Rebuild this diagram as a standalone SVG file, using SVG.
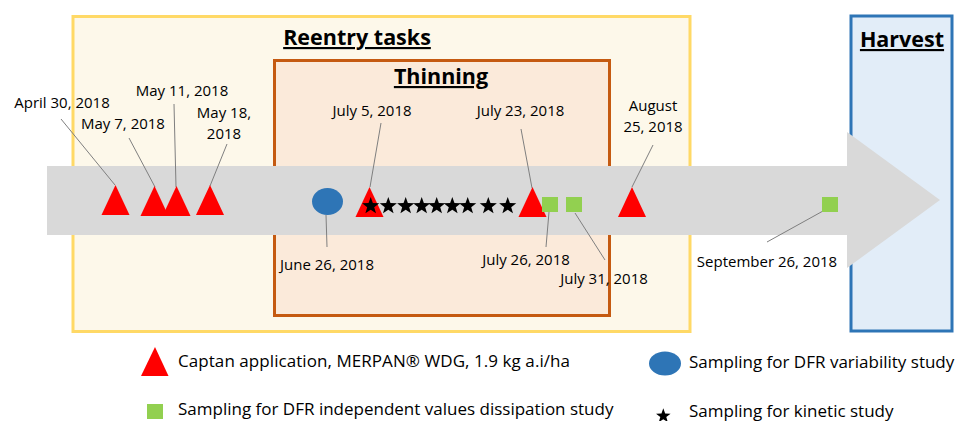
<svg xmlns="http://www.w3.org/2000/svg" width="958" height="421" viewBox="0 0 958 421">
<defs>
<style>
.lbl{font-family:"Open Sans","Liberation Sans",sans-serif;font-size:15px;fill:#000;text-anchor:middle}
.leg{font-family:"Open Sans","Liberation Sans",sans-serif;font-size:17px;fill:#000}
.ttl{font-family:"Open Sans","Liberation Sans",sans-serif;font-size:21.5px;font-weight:bold;fill:#000;text-decoration:underline}
.lead{stroke:#7F7F7F;stroke-width:1;fill:none}
.tri{fill:#FF0000}
.sq{fill:#92D050}
</style>
<path id="tri" d="M0,-15 L14,15 L-14,15 Z"/>
<path id="star" d="M0,-9 L2.17,-2.99 L8.56,-2.78 L3.52,1.14 L5.29,7.28 L0,3.7 L-5.29,7.28 L-3.52,1.14 L-8.56,-2.78 L-2.17,-2.99 Z"/>
</defs>
<rect width="958" height="421" fill="#FFFFFF"/>
<g id="reentry">
<rect x="73" y="16.5" width="617" height="315" fill="#FDF8EA" stroke="#FFD966" stroke-width="3"/>
<text class="ttl" x="357" y="45" text-anchor="middle">Reentry tasks</text>
</g>
<g id="thinning">
<rect x="274.5" y="60.5" width="335" height="255" fill="#FBEADA" stroke="#C55A11" stroke-width="3"/>
<text class="ttl" x="441" y="84" text-anchor="middle">Thinning</text>
</g>
<g id="harvest">
<rect x="851" y="16" width="101" height="315" fill="#E2EDF8" stroke="#2E75B6" stroke-width="3"/>
<text class="ttl" x="902" y="47" text-anchor="middle">Harvest</text>
</g>
<g id="timeline">
<path d="M47,166 H847 V132 L940,200 L847,268 V235 H47 Z" fill="#D9D9D9"/>
</g>
<g id="connectors">
<line class="lead" x1="61" y1="119" x2="115" y2="185"/>
<line class="lead" x1="129" y1="138" x2="155" y2="187"/>
<line class="lead" x1="174" y1="104" x2="176" y2="187"/>
<line class="lead" x1="227" y1="144" x2="210" y2="186"/>
<line class="lead" x1="381" y1="123" x2="370" y2="187"/>
<line class="lead" x1="521" y1="129" x2="532" y2="188"/>
<line class="lead" x1="326" y1="215" x2="327" y2="247"/>
<line class="lead" x1="549" y1="212" x2="546" y2="247"/>
<line class="lead" x1="575" y1="213" x2="605" y2="260"/>
<line class="lead" x1="653" y1="145" x2="632" y2="187"/>
<line class="lead" x1="823" y1="211" x2="767" y2="242"/>
</g>
<g id="applications">
<use href="#tri" class="tri" x="115.5" y="200"/>
<use href="#tri" class="tri" x="154.5" y="201"/>
<use href="#tri" class="tri" x="176.5" y="201"/>
<use href="#tri" class="tri" x="210" y="200"/>
<use href="#tri" class="tri" x="369.5" y="202"/>
<use href="#tri" class="tri" x="532.5" y="202"/>
<use href="#tri" class="tri" x="632" y="202"/>
</g>
<g id="variability-sampling">
<ellipse cx="327.5" cy="201.5" rx="15.5" ry="13.5" fill="#2E75B6"/>
</g>
<g id="kinetic-sampling">
<use href="#star" x="370.7" y="206"/>
<use href="#star" x="388.3" y="206"/>
<use href="#star" x="405.7" y="206"/>
<use href="#star" x="421.7" y="206"/>
<use href="#star" x="436.7" y="206"/>
<use href="#star" x="452.3" y="206"/>
<use href="#star" x="467.7" y="206"/>
<use href="#star" x="488.3" y="206"/>
<use href="#star" x="507.7" y="206"/>
</g>
<g id="dissipation-sampling">
<rect class="sq" x="542" y="197" width="16" height="15"/>
<rect class="sq" x="566" y="197" width="16" height="15"/>
<rect class="sq" x="822" y="197" width="16" height="15"/>
</g>
<g id="labels">
<text class="lbl" x="62" y="108">April 30, 2018</text>
<text class="lbl" x="123" y="129">May 7, 2018</text>
<text class="lbl" x="182" y="96">May 11, 2018</text>
<text class="lbl" x="224" y="118">May 18,</text>
<text class="lbl" x="224" y="139">2018</text>
<text class="lbl" x="372" y="116">July 5, 2018</text>
<text class="lbl" x="520.5" y="116">July 23, 2018</text>
<text class="lbl" x="327" y="270">June 26, 2018</text>
<text class="lbl" x="526" y="265">July 26, 2018</text>
<text class="lbl" x="604" y="284">July 31, 2018</text>
<text class="lbl" x="653" y="111">August</text>
<text class="lbl" x="653" y="132">25, 2018</text>
<text class="lbl" x="767" y="267">September 26, 2018</text>
</g>
<g id="legend">
<path d="M155,347 L168.5,376 L141,376 Z" fill="#FF0000"/>
<text class="leg" x="178" y="367" textLength="392">Captan application, MERPAN® WDG, 1.9 kg a.i/ha</text>
<ellipse cx="665" cy="363.5" rx="16" ry="12" fill="#2E75B6"/>
<text class="leg" x="689" y="368">Sampling for DFR variability study</text>
<rect class="sq" x="147" y="404" width="16" height="15"/>
<text class="leg" x="178" y="415">Sampling for DFR independent values dissipation study</text>
<use href="#star" transform="translate(663.3,416) scale(0.85)"/>
<text class="leg" x="689" y="417">Sampling for kinetic study</text>
</g>
</svg>
